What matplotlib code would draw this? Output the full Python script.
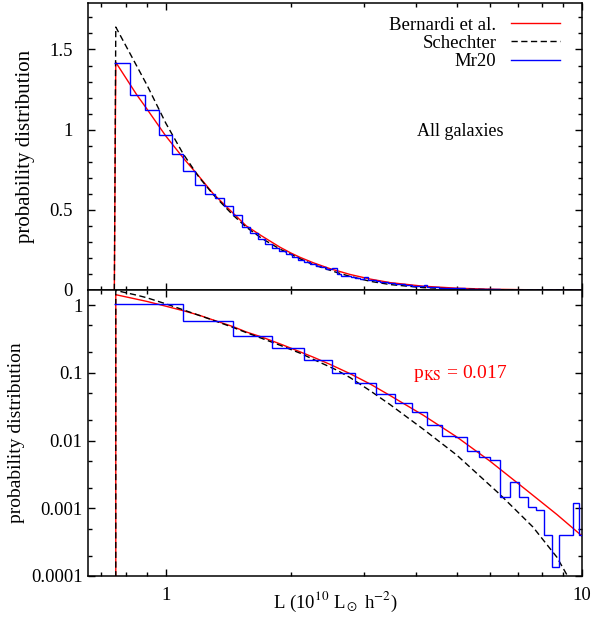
import numpy as np
import matplotlib
matplotlib.use('Agg')
import matplotlib.pyplot as plt
from matplotlib.lines import Line2D
from matplotlib.ticker import FixedLocator, NullFormatter, MultipleLocator, LogLocator

# Mr20 histogram, narrow bins (top panel, linear y)
fine_start = 0.752
fine_width = 0.07
fine_p = [1.417, 1.217, 1.121, 0.969, 0.848, 0.742, 0.652, 0.598, 0.573, 0.521,
          0.465, 0.396, 0.354, 0.318, 0.29, 0.262, 0.245, 0.225, 0.205, 0.19,
          0.175, 0.165, 0.15, 0.145, 0.13, 0.135, 0.1, 0.09, 0.088, 0.082,
          0.076, 0.07, 0.078, 0.064, 0.062, 0.056, 0.05, 0.047, 0.045, 0.042,
          0.04, 0.037, 0.035, 0.033, 0.03, 0.028, 0.026, 0.025, 0.022, 0.029,
          0.02, 0.018, 0.017, 0.016, 0.014, 0.014, 0.012, 0.013, 0.011, 0.01,
          0.012, 0.011, 0.013, 0.01, 0.009, 0.008, 0.007, 0.008, 0.006, 0.006,
          0.007, 0.006, 0.005, 0.006, 0.005, 0.006, 0.005, 0.005, 0.005, 0.005,
          0.002, 0.002, 0.001, 0.001, 0.0015, 0.003, 0.002, 0.003, 0.002, 0.002,
          0.002, 0.001, 0.002, 0.001, 0.0015, 0.001, 0.001, 0.001, 0.001, 0.001,
          0.001, 0.001, 0.001, 0.001, 0.0007, 0.0007, 0.0, 0.0007, 0.0, 0.0006,
          0.0, 0.0, 0.0007, 0.0, 0.0, 0.0007, 0.0, 0.0007, 0.0, 0.0006,
          0.0, 0.0007, 0.0, 0.0007, 0.0, 0.0014, 0.0007, 0.0014, 0.0014, 0.0011,
          0.0007, 0.0, 0.0007]

# Mr20 histogram, wide bins (bottom panel, log y)
coarse_start = 0.752
coarse_width = 0.35
coarse_p = [1.045, 0.587, 0.352, 0.229, 0.153, 0.100, 0.0699, 0.0481, 0.0354,
            0.0261, 0.0169, 0.0118, 0.0114, 0.0070, 0.0058, 0.0052, 0.00148,
            0.0024, 0.00148, 0.00105, 0.00094, 0.00040, 0.000138, 0.00040,
            0.00040, 0.00121, 0.00040]

# Bernardi et al. fit
bern_L = [0.752, 0.758, 0.85, 0.9, 1.0, 1.1, 1.2, 1.3, 1.45, 1.56, 1.7, 1.88, 2.0,
          2.1, 2.26, 2.48, 2.77, 3.1, 3.46, 4.16, 5.0, 6.0, 7.24, 8.7, 10.0]
bern_p = [0.0, 1.42, 1.22, 1.13, 0.96, 0.825, 0.71, 0.60, 0.48, 0.40, 0.337, 0.267, 0.23,
          0.204, 0.170, 0.133, 0.097, 0.068, 0.046, 0.0235, 0.0113, 0.0050, 0.0020,
          0.00081, 0.00039]

# Schechter fit
sch_L = [0.752, 0.758, 0.85, 0.9, 1.0, 1.1, 1.2, 1.3, 1.45, 1.56, 1.7, 1.88, 2.1,
         2.26, 2.57, 2.77, 3.1, 3.46, 4.16, 5.0, 6.35, 7.62, 8.7, 9.19, 9.6]
sch_p = [0.0, 1.64, 1.40, 1.28, 1.04, 0.85, 0.705, 0.595, 0.467, 0.392, 0.322, 0.255,
         0.195, 0.158, 0.11, 0.085, 0.054, 0.0338, 0.0146, 0.0061, 0.0016, 0.00053,
         0.00019, 0.000105, 0.00006]

plt.rcParams['font.family'] = 'Liberation Serif'
plt.rcParams['mathtext.fontset'] = 'stix'

fine_edges = fine_start + fine_width * np.arange(len(fine_p) + 1)
coarse_edges = coarse_start + coarse_width * np.arange(len(coarse_p) + 1)

fig = plt.figure(figsize=(5.92, 6.25), dpi=100)
ax1 = fig.add_axes([88 / 592, 335 / 625, 494 / 592, 287 / 625])
ax2 = fig.add_axes([88 / 592, 49 / 625, 494 / 592, 286 / 625])

dash = (4.5, 2.5)
for ax in (ax1, ax2):
    ax.plot(bern_L, bern_p, color='red', lw=1.0, zorder=2)
    ax.plot(sch_L, sch_p, color='black', lw=1.0, dashes=dash, zorder=3)

ax1.stairs(fine_p, fine_edges, color='blue', lw=1.0, baseline=None, zorder=4)
ax2.stairs(coarse_p, coarse_edges, color='blue', lw=1.0, baseline=None, zorder=4)

for ax in (ax1, ax2):
    ax.set_xscale('log')
    ax.set_xlim(0.65, 10)
    ax.xaxis.set_major_locator(FixedLocator([1, 10]))
    ax.xaxis.set_minor_locator(FixedLocator([0.7, 0.8, 0.9, 2, 3, 4, 5, 6, 7, 8, 9]))
    ax.xaxis.set_minor_formatter(NullFormatter())
    ax.tick_params(which='both', direction='in', top=True, right=True, width=1.0,
                   labelsize=13.5)
    ax.tick_params(which='major', length=5)
    ax.tick_params(which='minor', length=3)
    for s in ax.spines.values():
        s.set_linewidth(1.1)

# top panel
ax1.set_ylim(0, 1.79)
ax1.set_yticks([0, 0.5, 1, 1.5], ['0', '0.5', '1', '1.5'])
ax1.yaxis.set_minor_locator(MultipleLocator(0.1))
ax1.tick_params(axis='x', labelbottom=False)
ax1.tick_params(axis='y', pad=11)
ax1.set_ylabel('probability distribution', fontsize=15)
ax1.yaxis.set_label_coords(-0.108, 0.5)
ax1.text(0.754, 0.552, 'All galaxies', transform=ax1.transAxes, ha='center',
         va='center', fontsize=13)

handles = [Line2D([], [], color='red', lw=1.0),
           Line2D([], [], color='black', lw=1.0, dashes=dash),
           Line2D([], [], color='blue', lw=1.0)]
labels = ['Bernardi et al.', 'Schechter', 'Mr20']
ax1.legend(handles, labels, loc='upper right', bbox_to_anchor=(0.971, 0.978),
           borderaxespad=0, frameon=False, markerfirst=False, fontsize=13.5,
           handlelength=2.6, handletextpad=0.8, labelspacing=0.05)

# bottom panel
ax2.set_yscale('log')
ax2.set_ylim(1e-4, 1.665)
ax2.set_yticks([1e-4, 1e-3, 1e-2, 1e-1, 1], ['0.0001', '0.001', '0.01', '0.1', '1'])
ax2.yaxis.set_minor_locator(LogLocator(base=10, subs=(2.0, 5.0)))
ax2.yaxis.set_minor_formatter(NullFormatter())
ax2.set_xticks([1, 10], ['1', '10'])
ax2.tick_params(axis='y', pad=4)
ax2.tick_params(axis='x', pad=8)
ax2.set_ylabel('probability distribution', fontsize=14)
ax2.yaxis.set_label_coords(-0.128, 0.5)
ax2.set_xlabel(r'L (10$^{10}$ L$_\odot$ h$^{-2}$)', fontsize=13.5)
ax2.xaxis.set_label_coords(0.5, -0.05)
ax2.text(0.754, 0.709, r'p$_{\mathrm{KS}}$ = 0.017', transform=ax2.transAxes,
         ha='center', va='center', color='red', fontsize=14)

fig.savefig('out.png', dpi=100)
